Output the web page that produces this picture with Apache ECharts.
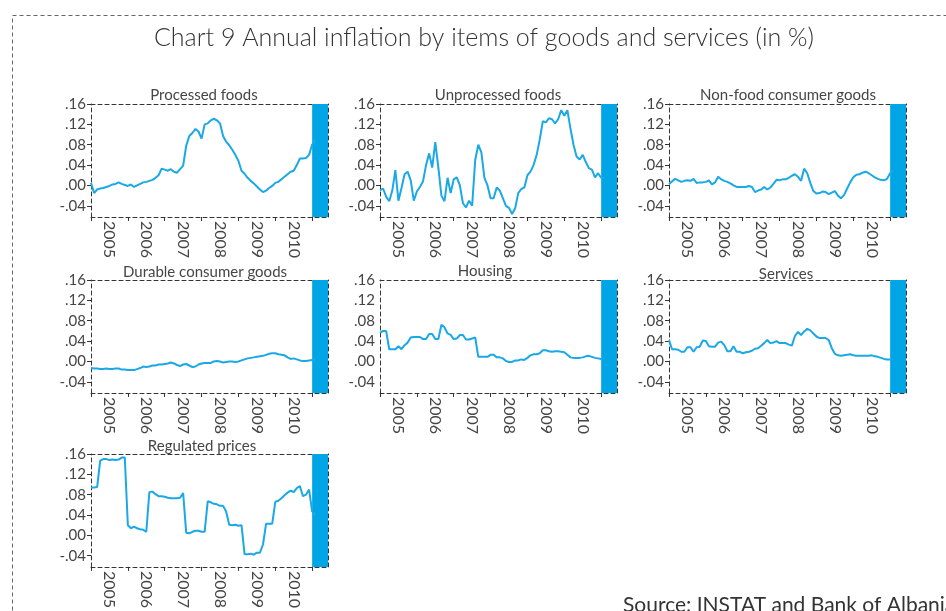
<!DOCTYPE html>
<html>
<head>
<meta charset="utf-8">
<script src="https://cdn.jsdelivr.net/npm/echarts@6/dist/echarts.min.js"></script>
<style>
  html, body { margin: 0; padding: 0; background: #fff; }
  #chart { width: 946px; height: 611px; }
</style>
</head>
<body>
<div id="chart"></div>
<script>
// Monthly annual inflation rates, Jan 2005 onwards
const START_YEAR = 2005;
const yearTicks = [2005, 2006, 2007, 2008, 2009, 2010, 2011];
const yearLabels = [2005.5, 2006.5, 2007.5, 2008.5, 2009.5, 2010.5];
const valueTicks = [-0.04, 0, 0.04, 0.08, 0.12, 0.16];

const panelTitles = [
  'Processed foods', 'Unprocessed foods', 'Non-food consumer goods',
  'Durable consumer goods', 'Housing', 'Services', 'Regulated prices'
];

const processedFoods = [
  0.005, -0.015, -0.008, -0.006, -0.005, -0.003, -0.001, 0.002, 0.003, 0.006, 0.003, 0.001,
  -0.001, 0.002, -0.003, 0.000, 0.003, 0.006, 0.007, 0.009, 0.011, 0.015, 0.020, 0.033,
  0.031, 0.029, 0.032, 0.027, 0.025, 0.032, 0.039, 0.078, 0.097, 0.103, 0.111, 0.106,
  0.092, 0.120, 0.122, 0.128, 0.131, 0.128, 0.122, 0.097, 0.086, 0.079, 0.070, 0.060,
  0.048, 0.029, 0.023, 0.015, 0.009, 0.004, -0.002, -0.008, -0.013, -0.010, -0.005, -0.001,
  0.005, 0.007, 0.012, 0.017, 0.022, 0.027, 0.029, 0.040, 0.053, 0.053, 0.054, 0.060,
  0.080, 0.090
];

const unprocessedFoods = [
  -0.010, -0.006, -0.022, -0.031, -0.010, 0.030, -0.030, -0.005, 0.022, 0.027, 0.010, -0.030,
  -0.012, -0.003, 0.008, 0.040, 0.063, 0.035, 0.085, 0.035, -0.020, -0.031, 0.015, -0.015,
  0.012, 0.016, 0.000, -0.035, -0.043, -0.030, -0.040, 0.050, 0.080, 0.065, 0.015, 0.000,
  -0.025, -0.025, -0.004, -0.010, -0.025, -0.040, -0.044, -0.056, -0.045, -0.015, -0.007, -0.004,
  0.020, 0.027, 0.040, 0.060, 0.090, 0.126, 0.124, 0.132, 0.130, 0.122, 0.130, 0.148,
  0.137, 0.148, 0.112, 0.080, 0.057, 0.051, 0.060, 0.046, 0.034, 0.031, 0.016, 0.024,
  0.015, 0.015
];

const nonFoodGoods = [
  0.003, 0.008, 0.013, 0.010, 0.007, 0.009, 0.010, 0.009, 0.013, 0.005, 0.006, 0.006,
  0.007, 0.010, 0.002, 0.006, 0.017, 0.012, 0.009, 0.007, 0.004, 0.000, -0.003, -0.003,
  -0.003, -0.003, -0.001, -0.003, -0.013, -0.010, -0.008, -0.003, -0.008, -0.004, 0.003, 0.011,
  0.010, 0.012, 0.012, 0.015, 0.019, 0.022, 0.017, 0.009, 0.033, 0.024, 0.005, -0.011,
  -0.016, -0.015, -0.012, -0.013, -0.017, -0.014, -0.011, -0.020, -0.025, -0.019, -0.006, 0.006,
  0.016, 0.021, 0.022, 0.025, 0.027, 0.024, 0.020, 0.016, 0.013, 0.011, 0.010, 0.013,
  0.024, 0.030
];

const durableGoods = [
  -0.013, -0.014, -0.014, -0.015, -0.015, -0.014, -0.015, -0.015, -0.014, -0.014, -0.016, -0.016,
  -0.017, -0.017, -0.017, -0.015, -0.013, -0.010, -0.011, -0.010, -0.008, -0.008, -0.006, -0.006,
  -0.005, -0.004, -0.002, -0.004, -0.007, -0.009, -0.006, -0.005, -0.008, -0.011, -0.010, -0.006,
  -0.004, -0.003, -0.003, -0.003, 0.000, 0.001, 0.000, -0.002, -0.001, 0.000, 0.000, -0.001,
  0.000, 0.002, 0.004, 0.006, 0.007, 0.008, 0.009, 0.010, 0.011, 0.013, 0.015, 0.016,
  0.016, 0.014, 0.013, 0.012, 0.008, 0.005, 0.006, 0.004, 0.002, 0.001, 0.001, 0.002,
  0.003, 0.004
];

const housing = [
  0.056, 0.060, 0.060, 0.024, 0.024, 0.024, 0.030, 0.024, 0.032, 0.037, 0.047, 0.048,
  0.048, 0.048, 0.044, 0.044, 0.054, 0.054, 0.044, 0.044, 0.072, 0.067, 0.055, 0.052,
  0.044, 0.045, 0.052, 0.052, 0.043, 0.043, 0.045, 0.047, 0.009, 0.009, 0.009, 0.009,
  0.013, 0.013, 0.008, 0.008, 0.006, 0.001, -0.001, -0.001, 0.002, 0.002, 0.004, 0.003,
  0.007, 0.012, 0.014, 0.014, 0.016, 0.022, 0.022, 0.020, 0.019, 0.020, 0.020, 0.019,
  0.018, 0.013, 0.008, 0.007, 0.007, 0.007, 0.008, 0.010, 0.011, 0.009, 0.007, 0.006,
  0.005, 0.008
];

const services = [
  0.042, 0.024, 0.024, 0.023, 0.019, 0.019, 0.028, 0.028, 0.019, 0.028, 0.029, 0.041,
  0.040, 0.030, 0.029, 0.029, 0.037, 0.039, 0.032, 0.020, 0.020, 0.030, 0.019, 0.019,
  0.016, 0.018, 0.019, 0.021, 0.025, 0.026, 0.031, 0.036, 0.042, 0.036, 0.037, 0.040,
  0.036, 0.036, 0.036, 0.033, 0.031, 0.050, 0.058, 0.052, 0.059, 0.064, 0.061, 0.055,
  0.049, 0.046, 0.046, 0.046, 0.042, 0.026, 0.015, 0.012, 0.011, 0.012, 0.013, 0.014,
  0.012, 0.011, 0.011, 0.011, 0.011, 0.011, 0.012, 0.010, 0.009, 0.007, 0.005, 0.004,
  0.004, 0.004
];

const regulatedPrices = [
  0.094, 0.094, 0.095, 0.147, 0.150, 0.150, 0.148, 0.149, 0.148, 0.149, 0.153, 0.153,
  0.020, 0.014, 0.017, 0.014, 0.012, 0.011, 0.007, 0.085, 0.086, 0.081, 0.077, 0.077,
  0.076, 0.074, 0.073, 0.073, 0.073, 0.074, 0.083, 0.005, 0.004, 0.007, 0.009, 0.009,
  0.007, 0.007, 0.067, 0.065, 0.062, 0.061, 0.058, 0.058, 0.047, 0.021, 0.020, 0.021,
  0.019, 0.020, -0.037, -0.037, -0.036, -0.038, -0.034, -0.034, -0.018, 0.023, 0.023, 0.023,
  0.066, 0.068, 0.073, 0.079, 0.084, 0.088, 0.085, 0.093, 0.097, 0.077, 0.080, 0.090,
  0.047, 0.040
];

const panelSeries = [
  processedFoods, unprocessedFoods, nonFoodGoods,
  durableGoods, housing, services, regulatedPrices
];

// Axis extents and the shaded band at the right of each panel
const X_MIN = 2005, X_MAX = 2011.43;
const Y_MIN = -0.062, Y_MAX = 0.16;
const SHADE_FROM = 2011;

const LINE_COLOR = '#1ba8e6';
const SHADE_COLOR = '#00a5e6';
const AXIS_COLOR = '#333';
const TEXT_COLOR = '#454545';
const FONT = 'Lato, "Open Sans", sans-serif';

// Panel frames (pixels)
const colLeft = [91, 380, 669];
const rowTop = [104, 280, 454];
const PANEL_W = 237, PANEL_H = 113;
const titleX = [204, 498, 788, 205, 485, 786, 202];
const titleY = [95, 95, 95, 272, 271, 274, 446];

function fmtValue(v) {
  const s = Math.abs(v).toFixed(2).replace(/^0/, '');
  return (v < -1e-9 ? '-' : '') + s;
}

function toPoints(arr) {
  return arr.map((v, i) => [START_YEAR + i / 12, v]);
}

const dashed = { color: AXIS_COLOR, width: 1, type: [4, 3] };

const grid = [], xAxis = [], yAxis = [], series = [], graphic = [];

panelTitles.forEach((name, p) => {
  const r = Math.floor(p / 3), c = p % 3;
  grid.push({ left: colLeft[c], top: rowTop[r], width: PANEL_W, height: PANEL_H, containLabel: false });
  const showYTicks = name !== 'Housing';

  // bottom axis: year ticks and centred year labels
  xAxis.push({
    type: 'value', gridIndex: p, min: X_MIN, max: X_MAX, position: 'bottom',
    axisLine: { show: true, onZero: false, lineStyle: dashed },
    axisTick: { show: true, customValues: yearTicks, length: 4, inside: false, lineStyle: { color: AXIS_COLOR } },
    axisLabel: {
      show: true, customValues: yearLabels, rotate: -90, margin: 4,
      formatter: v => String(Math.floor(v)),
      color: TEXT_COLOR, fontFamily: FONT, fontSize: 16,
      hideOverlap: false, showMinLabel: true, showMaxLabel: true
    },
    splitLine: { show: false }
  });
  // top frame edge
  xAxis.push({
    type: 'value', gridIndex: p, min: X_MIN, max: X_MAX, position: 'top',
    axisLine: { show: true, onZero: false, lineStyle: dashed },
    axisTick: { show: false }, axisLabel: { show: false }, splitLine: { show: false }
  });
  // left value axis
  yAxis.push({
    type: 'value', gridIndex: p, min: Y_MIN, max: Y_MAX, position: 'left',
    axisLine: { show: true, onZero: false, lineStyle: dashed },
    axisTick: { show: showYTicks, customValues: valueTicks, length: 4, lineStyle: { color: AXIS_COLOR } },
    axisLabel: {
      show: true, customValues: valueTicks, formatter: fmtValue, margin: 5,
      color: TEXT_COLOR, fontFamily: FONT, fontSize: 15
    },
    splitLine: { show: false }
  });
  // right frame edge
  yAxis.push({
    type: 'value', gridIndex: p, min: Y_MIN, max: Y_MAX, position: 'right',
    axisLine: { show: true, onZero: false, lineStyle: dashed },
    axisTick: { show: false }, axisLabel: { show: false }, splitLine: { show: false }
  });

  const xi = p * 2, yi = p * 2;
  series.push({
    type: 'line', name, xAxisIndex: xi, yAxisIndex: yi,
    data: toPoints(panelSeries[p]), showSymbol: false, smooth: false,
    lineStyle: { color: LINE_COLOR, width: 2 }, z: 2, silent: true, animation: false
  });
  // shaded band drawn over the line
  series.push({
    type: 'line', xAxisIndex: xi, yAxisIndex: yi, data: [], z: 5, silent: true, animation: false,
    markArea: {
      silent: true, animation: false,
      itemStyle: { color: SHADE_COLOR, opacity: 1 },
      data: [[{ xAxis: SHADE_FROM, yAxis: Y_MIN }, { xAxis: X_MAX, yAxis: Y_MAX }]]
    }
  });

  graphic.push({
    type: 'text', x: titleX[p], y: titleY[p], z: 10,
    style: {
      text: name, fill: TEXT_COLOR, font: '15px ' + FONT,
      textAlign: 'center', textVerticalAlign: 'middle'
    }
  });
});

// outer dashed frame, title and source note
graphic.push({
  type: 'rect', shape: { x: 12.5, y: 15.5, width: 1200, height: 900 }, z: 0,
  style: { fill: 'none', stroke: '#666', lineWidth: 1, lineDash: [4, 3] }
});
graphic.push({
  type: 'text', x: 484, y: 38, z: 10,
  style: {
    text: 'Chart 9 Annual inflation by items of goods and services (in %)',
    fill: '#333', font: '300 25px ' + FONT,
    textAlign: 'center', textVerticalAlign: 'middle'
  }
});
graphic.push({
  type: 'text', x: 623, y: 605, z: 10,
  style: {
    text: 'Source: INSTAT and Bank of Albania',
    fill: '#333', font: '21px ' + FONT,
    textAlign: 'left', textVerticalAlign: 'middle'
  }
});

const chart = echarts.init(document.getElementById('chart'), null, { renderer: 'canvas' });
chart.setOption({
  animation: false,
  backgroundColor: '#fff',
  grid, xAxis, yAxis, series, graphic
});
</script>
</body>
</html>
